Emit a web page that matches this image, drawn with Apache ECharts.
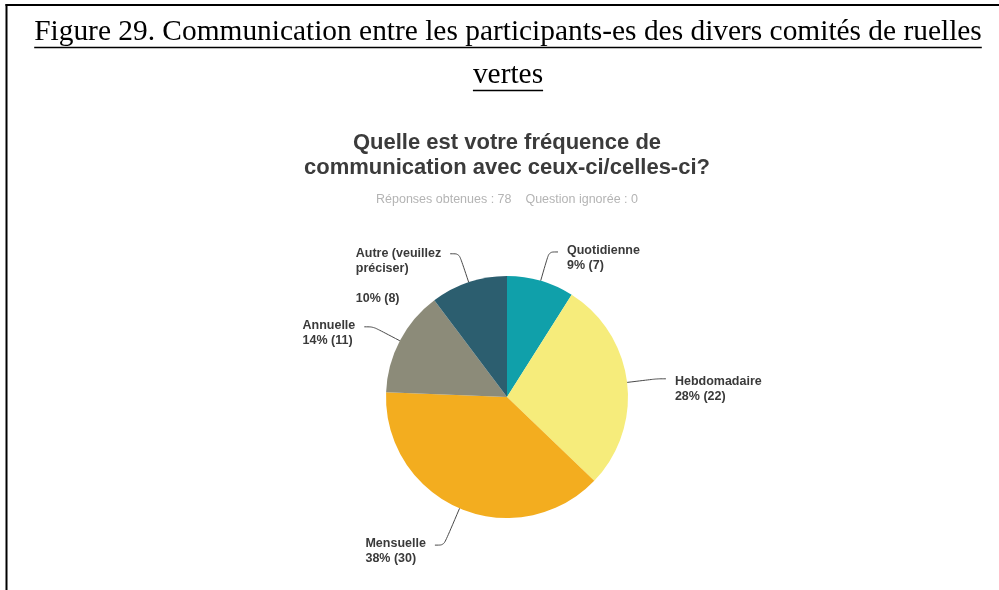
<!DOCTYPE html>
<html>
<head>
<meta charset="utf-8">
<script src="https://cdn.jsdelivr.net/npm/echarts@6/dist/echarts.min.js"></script>
<style>
  html, body { margin: 0; padding: 0; background: #ffffff; }
  #chart { width: 999px; height: 590px; }
</style>
</head>
<body>
<div id="chart"></div>
<script>
// Figure heading (two lines, underlined)
const headingLines = [
  'Figure 29. Communication entre les participants-es des divers comités de ruelles',
  'vertes'
];
// Survey question and response counts
const questionTitle = 'Quelle est votre fréquence de\ncommunication avec ceux-ci/celles-ci?';
const responseNote = 'Réponses obtenues : 78    Question ignorée : 0';

// Answer categories, number of respondents and the rounded percentage shown
const categories = ['Quotidienne', 'Hebdomadaire', 'Mensuelle', 'Annuelle', 'Autre (veuillez\npréciser)'];
const counts = [7, 22, 30, 11, 8];
const percents = [9, 28, 38, 14, 10];
const sliceColors = ['#10a0aa', '#f6ec7b', '#f3ad1f', '#8c8b79', '#2c5e6f'];

const chart = echarts.init(document.getElementById('chart'), null, { renderer: 'canvas' });

const headingFont = '29.4px "Liberation Serif", "Times New Roman", serif';
const measureCtx = document.createElement('canvas').getContext('2d');
measureCtx.font = headingFont;

const headingCenterX = 508;
const headingRows = [{ y: 32, underline: 47.5 }, { y: 75, underline: 90.5 }];

const graphics = [];
// page frame (top and left rules)
graphics.push({ type: 'line', shape: { x1: 5.5, y1: 5, x2: 999, y2: 5 }, style: { stroke: '#000', lineWidth: 2 } });
graphics.push({ type: 'line', shape: { x1: 6.5, y1: 4, x2: 6.5, y2: 590 }, style: { stroke: '#000', lineWidth: 2 } });

headingLines.forEach(function (line, i) {
  const w = measureCtx.measureText(line).width;
  graphics.push({
    type: 'text', x: headingCenterX, y: headingRows[i].y,
    style: { text: line, font: headingFont, fill: '#000', align: 'center', textAlign: 'center', verticalAlign: 'middle', textVerticalAlign: 'middle' }
  });
  graphics.push({
    type: 'line',
    shape: { x1: headingCenterX - w / 2, y1: headingRows[i].underline, x2: headingCenterX + w / 2, y2: headingRows[i].underline },
    style: { stroke: '#000', lineWidth: 1.5 }
  });
});

graphics.push({
  type: 'text', x: 507, y: 155,
  style: { text: questionTitle, font: 'bold 22px "Liberation Sans", Arial, sans-serif', fill: '#3b3b3b',
    align: 'center', textAlign: 'center', verticalAlign: 'middle', textVerticalAlign: 'middle', lineHeight: 25 }
});
graphics.push({
  type: 'text', x: 507, y: 200,
  style: { text: responseNote, font: '12.5px "Liberation Sans", Arial, sans-serif', fill: '#b4b4b4',
    align: 'center', textAlign: 'center', verticalAlign: 'middle', textVerticalAlign: 'middle' }
});

const pieData = categories.map(function (name, i) {
  return { name: name, value: counts[i], itemStyle: { color: sliceColors[i] } };
});
// per-slice label placement tweaks
pieData[1].label = { padding: [20, 0, 0, 0] };
pieData[2].labelLine = { length: 40 };
pieData[4].label = { padding: [44, 0, 0, 0] };

chart.setOption({
  animation: false,
  backgroundColor: '#ffffff',
  graphic: graphics,
  series: [{
    type: 'pie',
    center: [507, 397],
    radius: 121,
    startAngle: 90,
    clockwise: true,
    avoidLabelOverlap: false,
    emphasis: { disabled: true },
    itemStyle: { borderWidth: 0 },
    label: {
      show: true,
      position: 'outside',
      padding: [12, 0, 0, 0],
      distanceToLabelLine: 9,
      formatter: function (p) {
        const nameLines = p.name.split('\n').map(function (s) { return '{t|' + s + '}'; });
        const sep = p.dataIndex === 4 ? '\n\n' : '\n';
        return nameLines.join('\n') + sep + '{t|' + percents[p.dataIndex] + '% (' + counts[p.dataIndex] + ')}';
      },
      lineHeight: 15,
      rich: {
        t: { align: 'left', fontFamily: '"Liberation Sans", Arial, sans-serif', fontSize: 12.5, fontWeight: 'bold', color: '#3a3a3a', lineHeight: 15 }
      }
    },
    labelLine: {
      show: true,
      length: 30,
      length2: 9,
      smooth: 0.3,
      lineStyle: { color: '#4a4a4a', width: 1 }
    },
    data: pieData
  }]
});
</script>
</body>
</html>
